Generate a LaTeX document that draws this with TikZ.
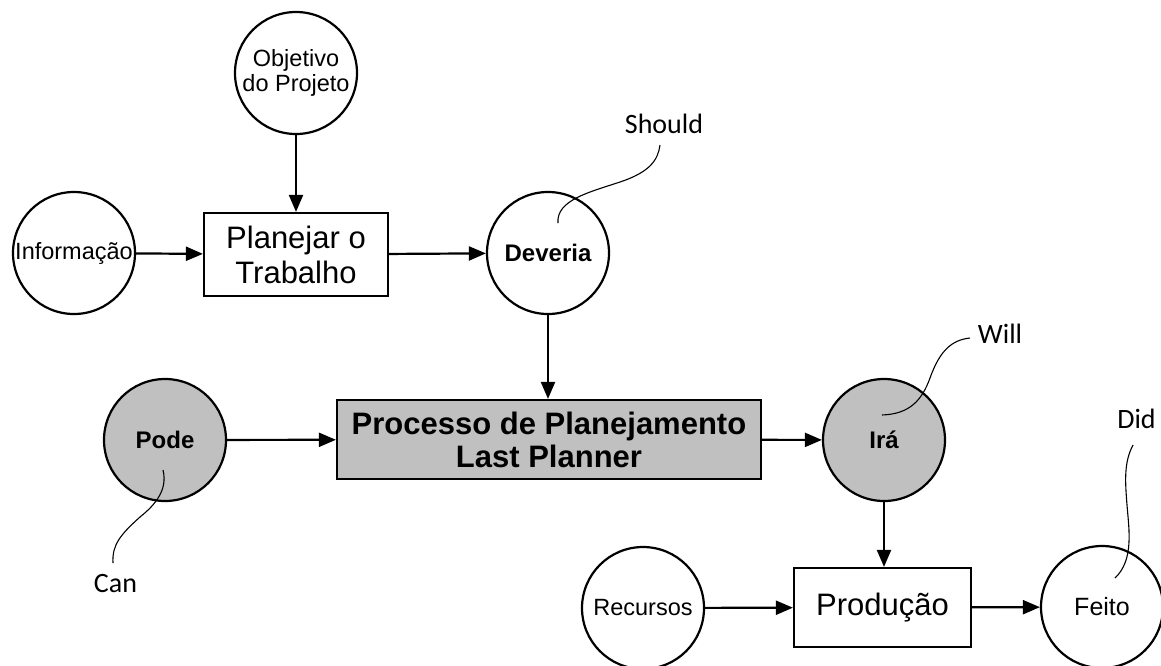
\documentclass[tikz,border=0pt]{standalone}
\usepackage{fontspec}
\setmainfont{Liberation Sans}
\newfontfamily\notefont{Carlito}
\usetikzlibrary{arrows.meta}
\definecolor{boxgray}{RGB}{192,192,192}
\begin{document}
\begin{tikzpicture}[x=1pt,y=-1pt,
  state/.style={circle,draw,line width=2.2pt,minimum size=122pt,inner sep=0pt,
    align=center,font=\fontsize{23.5}{24.5}\selectfont},
  keystate/.style={state,font=\fontsize{24}{26}\selectfont\bfseries},
  active/.style={keystate,fill=boxgray},
  task/.style={rectangle,draw,line width=2.2pt,inner sep=0pt,align=center},
  flow/.style={line width=2.2pt,-{Triangle[length=17pt,width=14pt]}},
  remark/.style={font=\notefont\fontsize{28}{30}\selectfont,anchor=base,inner sep=0pt},
  lead/.style={line width=1.1pt}
]
\useasboundingbox (0,0) rectangle (1161,665);

% planning inputs
\node[state] (obj) at (296,73) {Objetivo\\do Projeto};
\node[state] (info) at (74,253) {Informação};
\node[task,minimum width=184pt,minimum height=83pt,
      font=\fontsize{31}{35}\selectfont] (plan) at (296,254.5) {Planejar o\\Trabalho};
\node[keystate] (should) at (548,253) {Deveria};

% Last Planner core
\node[active] (can) at (165,440) {Pode};
\node[task,fill=boxgray,minimum width=424pt,minimum height=79pt,
      font=\fontsize{31}{33}\selectfont\bfseries] (lp) at (549,439.5)
      {Processo de Planejamento\\Last Planner};
\node[active] (will) at (884,440) {Irá};

% production
\node[state] (res) at (643,608) {Recursos};
\node[task,minimum width=177pt,minimum height=79pt,
      font=\fontsize{31}{35}\selectfont] (prod) at (882.5,607.5) {Produção};
\node[state,font=\fontsize{25}{27}\selectfont] (did) at (1102,607) {Feito};

% flows
\draw[flow] (obj) -- (obj |- plan.north);
\draw[flow] (info) -- (plan);
\draw[flow] (plan) -- (should);
\draw[flow] (should) -- (should |- lp.north);
\draw[flow] (can) -- (lp);
\draw[flow] (lp) -- (will);
\draw[flow] (will) -- (will |- prod.north);
\draw[flow] (res) -- (prod);
\draw[flow] (prod) -- (did);

% English annotations
\node[remark] (tShould) at (664,133) {Should};
\node[remark] (tWill) at (1000,343) {Will};
\node[remark] (tCan) at (115.5,592) {Can};
\node[remark] (tDid) at (1136.5,428) {Did};

\coordinate (pShould) at (558,223);
\coordinate (pWill) at (882,415);
\coordinate (pCan) at (163,470);
\coordinate (pDid) at (1115,578);

\draw[lead] (pShould) .. controls (556,200) and (590,192) .. (620,182)
  .. controls (650,172) and (658,160) .. (660,145);
\draw[lead] (pWill) .. controls (910,414) and (922,400) .. (930,378)
  .. controls (940,350) and (952,340) .. (970,338);
\draw[lead] (pCan) .. controls (168,490) and (155,505) .. (140,517)
  .. controls (120,535) and (112,545) .. (113,563);
\draw[lead] (1133,445) .. controls (1124,462) and (1125,480) .. (1127,505)
  .. controls (1129,530) and (1134,560) .. (pDid);
\end{tikzpicture}
\end{document}
